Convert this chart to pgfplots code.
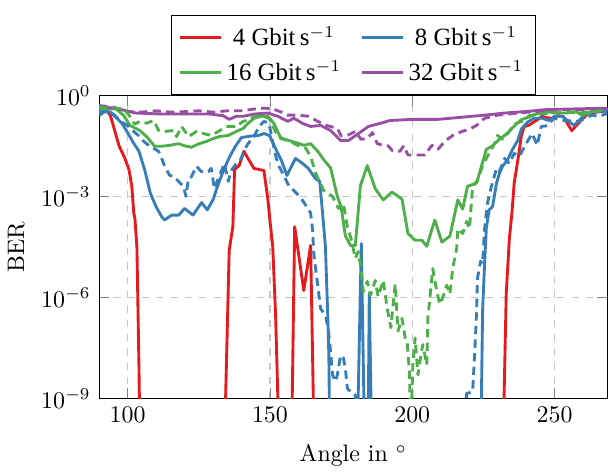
\documentclass[border=0pt]{standalone}
\usepackage{fontspec}
\usepackage{pgfplots}
\pgfplotsset{compat=1.18}
\newfontfamily\legfont{Liberation Serif}
\definecolor{cred}{HTML}{E41A1C}
\definecolor{cblue}{HTML}{377EB8}
\definecolor{cgreen}{HTML}{4DAF4A}
\definecolor{cpurple}{HTML}{984EA3}
\begin{document}
\begin{tikzpicture}
\begin{axis}[
  scale only axis,
  width=213pt, height=127pt,
  ymode=log,
  xmin=90, xmax=268.5,
  ymin=1e-9, ymax=1,
  xtick={100,150,200,250},
  ytick={1e-9,1e-6,1e-3,1},
  minor y tick num=0,
  grid=major,
  grid style={dashed, gray!45, line width=0.6pt},
  xlabel={Angle in $^\circ$},
  xlabel style={yshift=-2.5pt},
  ylabel={BER},
  legend columns=2,
  legend cell align=center,
  legend style={at={(0.5,1)}, anchor=south, font=\legfont\fontsize{10.4}{12.5}\selectfont, draw=black,
    row sep=1pt, inner ysep=2.5pt,
    /tikz/every even column/.append style={column sep=6pt}},
  every axis plot/.append style={line width=1.2pt, line join=round},
]
% 4 Gbit/s solid
\addplot[cred] coordinates {
(90,0.45)(92.5,0.38)(94,0.25)(95.5,0.09)(97,3.2e-2)(99,1.4e-2)(100.5,6.3e-3)(101.5,2e-3)(102.2,3.2e-4)(102.6,2.2e-4)(103.3,3e-5)(104,1e-8)(105,1e-14)
(133,1e-14)(135.7,2.5e-5)(137,1.3e-4)(137.6,6.3e-3)(139.2,8.3e-3)(140.9,2.2e-2)(142.3,1.35e-2)(144.4,6.8e-3)(147.9,5.9e-3)(149.3,8e-4)(150,2e-4)(151,3.2e-5)(152,3e-7)(152.8,1e-9)(153.5,1e-14)
(157,1e-14)(158.7,1.26e-4)(161.9,1.6e-6)(164.3,3.5e-5)(166.3,1e-14)
(231,1e-14)(233,1.26e-6)(234.1,5.6e-5)(235,3.2e-4)(235.8,2.5e-3)(237.6,2.3e-2)(238.3,6.3e-2)(239.3,0.12)(241,0.13)(243.5,0.18)(245.6,0.24)(247,0.22)(249,0.21)(251,0.25)(253,0.24)(256,0.09)(258,0.14)(260,0.21)(262,0.3)(266,0.33)(270,0.36)
};
\addlegendentry{4 Gbit\,s$^{-1}$}
% 8 Gbit/s solid
\addplot[cblue] coordinates {
(90,0.25)(92,0.33)(94,0.32)(96,0.22)(98,0.15)(100,7.9e-2)(102,4e-2)(104,2.2e-2)(106,6.3e-3)(108,1.26e-3)(110,5e-4)(112,2.5e-4)(113,2e-4)(115.5,2.8e-4)(118,2.8e-4)(120,4.4e-4)(123,2.8e-4)(126,6.6e-4)(128,4e-4)(130,7.9e-4)(132,2.5e-3)(134,6.8e-3)(136,1.6e-2)(138,3.2e-2)(140,5.6e-2)(142,6e-2)(144,6.3e-2)(146,6.5e-2)(148,7.4e-2)(150,6.3e-2)(151.5,3.2e-2)(154,1.2e-2)(156,4.2e-3)(159,1.35e-2)(161.5,9.5e-3)(163.5,6.8e-3)(166,3.4e-3)(167.5,2.8e-3)(168.5,3.2e-4)(169.5,3.2e-5)(170.3,3.2e-7)(170.7,2e-8)(171.5,1e-14)
(179.8,1e-14)(182.1,4e-5)(184.0,1e-14)(184.1,1e-14)(184.9,1.26e-6)(186.5,1e-14)
(223.5,1e-14)(224.7,4e-7)(225.4,1e-5)(226,1.1e-4)(227,4e-4)(228.2,5e-4)(229.6,2.5e-3)(230.6,4.8e-3)(231.7,7.9e-3)(233.4,1.2e-2)(235.2,2.5e-2)(237,4.5e-2)(238.3,0.1)(240.4,0.16)(242.8,0.21)(245.6,0.21)(248,0.18)(250,0.24)(252.6,0.24)(256.8,0.13)(258.5,0.18)(261,0.28)(263,0.32)(268,0.35)(270,0.35)
};
\addlegendentry{8 Gbit\,s$^{-1}$}
% 16 Gbit/s solid
\addplot[cgreen] coordinates {
(90,0.4)(93,0.4)(96,0.4)(98.7,0.25)(100.8,0.13)(104.3,9.1e-2)(106.7,6e-2)(109.5,3.1e-2)(112,3.1e-2)(114.8,3.3e-2)(118,3.7e-2)(120,3.2e-2)(122.4,2.9e-2)(125.2,3.7e-2)(127.7,4.3e-2)(130,5.2e-2)(132.2,6e-2)(135.4,6.5e-2)(138.2,8.5e-2)(140.6,0.105)(142.3,0.148)(144.4,0.21)(147,0.24)(149.3,0.24)(151.4,0.148)(153.9,5.2e-2)(156.6,4.6e-2)(159,4e-2)(162,3.3e-2)(164.3,3.7e-2)(166.8,2.2e-2)(169,1.2e-2)(171.3,7.1e-3)(173.7,1e-3)(175,5e-4)(176.5,6.9e-5)(178.3,3.5e-5)(180,3.5e-5)(181.8,2.1e-3)(184.2,8.3e-3)(187,1.7e-3)(189.8,7.9e-4)(192.9,1.35e-3)(196.4,8.3e-4)(198.5,7.9e-5)(201,5e-5)(203.4,5e-5)(205.1,3.3e-5)(207.9,2e-4)(210.4,4.4e-5)(213.2,6.6e-5)(216,7.9e-4)(217.7,4.2e-4)(219.4,2e-3)(222.6,2.5e-3)(224.3,7.9e-3)(226,2.5e-2)(228.2,3.2e-2)(230.6,5e-2)(233,7.1e-2)(235.2,0.11)(238.3,0.19)(241,0.23)(243.5,0.28)(247,0.33)(250.5,0.3)(254,0.3)(257.5,0.33)(259.6,0.26)(263,0.33)(268,0.4)(270,0.42)
};
\addlegendentry{16 Gbit\,s$^{-1}$}
% 32 Gbit/s solid
\addplot[cpurple] coordinates {
(90,0.47)(96,0.41)(103,0.3)(112,0.28)(122,0.28)(129,0.28)(133.6,0.25)(135.7,0.195)(138.2,0.24)(140.6,0.24)(144.4,0.28)(149.3,0.3)(152.8,0.24)(156.3,0.17)(158.4,0.21)(161.5,0.148)(164.3,0.12)(167.8,0.129)(171.3,9.1e-2)(174.8,4.6e-2)(177.6,4.6e-2)(181.1,7.4e-2)(184.6,0.12)(188.7,0.148)(192.2,0.18)(200,0.195)(209,0.195)(216,0.22)(220.8,0.24)(225.4,0.26)(232.4,0.3)(239.3,0.33)(242.8,0.35)(247,0.38)(258,0.4)(270,0.42)
};
\addlegendentry{32 Gbit\,s$^{-1}$}
% dashed series
\addplot[cpurple, dash pattern=on 3.5pt off 2.2pt, forget plot] coordinates {
(90,0.5)(95,0.45)(100,0.33)(105,0.32)(110,0.35)(115,0.32)(120,0.33)(125,0.35)(130,0.32)(135,0.35)(140,0.35)(145,0.4)(148,0.42)(151,0.4)(154,0.32)(156.3,0.26)(160,0.26)(163.6,0.24)(166.8,0.17)(170.3,0.126)(173.7,0.105)(175,6.3e-2)(177.2,6.5e-2)(180,8.5e-2)(182,5e-2)(184.2,5.2e-2)(186,7.9e-2)(187.7,3.7e-2)(189.8,3.3e-2)(191.5,3.2e-2)(193,2.3e-2)(195.7,2.2e-2)(197,3.2e-2)(198.5,1.7e-2)(201.7,1.7e-2)(204.4,1.7e-2)(206.9,3.3e-2)(209,2.5e-2)(211.4,4.3e-2)(214.2,6.5e-2)(217.4,8.5e-2)(220.1,0.1)(222.6,0.129)(225.4,0.21)(230,0.26)(237,0.3)(243,0.33)(250,0.38)(260,0.38)(270,0.42)
};
\addplot[cgreen, dash pattern=on 3.5pt off 2.2pt, forget plot] coordinates {
(90,0.45)(95,0.42)(98.7,0.4)(100.8,0.24)(102.5,0.14)(104.3,0.17)(106.7,0.15)(109.2,0.18)(110.9,9.1e-2)(113,8.5e-2)(116.2,9.1e-2)(117.2,6e-2)(119,0.12)(121.4,6e-2)(124.2,8.5e-2)(126.6,7.4e-2)(129.4,6.5e-2)(131.9,8.5e-2)(134.7,0.12)(138.2,0.12)(140.6,0.17)(143,0.19)(144.4,0.24)(147.6,0.24)(149.7,0.21)(151.1,0.12)(152.8,6e-2)(156.3,4.6e-2)(159.8,3.3e-2)(162.6,2.7e-2)(164.3,1.55e-2)(166.1,4.8e-3)(168.9,1.5e-3)(172,1e-3)(174.1,4.4e-4)(175.8,6.3e-4)(177.2,1.26e-4)(178.5,5.6e-5)(180,1.45e-5)(181,2.3e-5)(182,7.2e-6)(182.8,1.5e-6)(184.2,3e-6)(185.3,1.15e-6)(187,3.2e-6)(188,1.07e-6)(189.8,3.2e-6)(191.2,4.7e-7)(192.5,1.26e-7)(194,2.5e-6)(195,1e-7)(196.4,2.4e-7)(197.5,6.3e-8)(198.2,5e-8)(199,6.3e-9)(199.5,1e-10)(200.2,1e-8)(201,6.3e-8)(202,5e-9)(202.7,1.26e-8)(203.7,4e-8)(205.1,1e-8)(205.5,2.5e-7)(207.2,7.2e-6)(208.6,1.5e-6)(209.7,6.3e-7)(210.7,1e-6)(212.1,2.3e-6)(213.2,1.26e-6)(214.2,7.2e-6)(215.6,2.9e-5)(216,1.1e-4)(217.7,7.9e-5)(219.1,1.8e-4)(220.1,1.1e-4)(221.2,2e-3)(222.9,3e-3)(224.7,8.3e-3)(226.4,1.55e-2)(228.9,3.7e-2)(229.9,6.5e-2)(231.7,5e-2)(234.1,8.5e-2)(236.5,0.148)(239.3,0.18)(241,0.25)(244.6,0.28)(249,0.3)(254,0.33)(258.5,0.3)(263,0.33)(270,0.38)
};
\addplot[cblue, dash pattern=on 3.5pt off 2.2pt, forget plot] coordinates {
(90,0.32)(93,0.35)(95,0.28)(97.3,0.18)(100,0.126)(102.2,8.5e-2)(104,6.3e-2)(105.7,4.3e-2)(107.8,3.1e-2)(110.9,2.2e-2)(112,1.35e-2)(113,7.9e-3)(114.8,4.2e-3)(116.2,4e-3)(117.9,2.8e-3)(119.7,2e-3)(120.5,1e-3)(121.4,3.4e-3)(122.4,3.8e-3)(124.2,7.9e-3)(125.9,5.5e-3)(128.4,5.5e-3)(129.4,6.8e-3)(130.5,1.7e-3)(132.2,4e-3)(134,9.5e-3)(135.4,2.8e-3)(136.4,5.9e-3)(138.2,9.5e-3)(139.9,1.35e-2)(140.9,2.3e-2)(142.3,3.7e-2)(144.4,6e-2)(146.2,0.12)(147.9,0.17)(149.7,0.148)(151.1,3.7e-2)(152.1,1.55e-2)(153.2,7.9e-3)(154.9,4.2e-3)(156.6,2.1e-3)(158.4,1.5e-3)(160.1,1.07e-3)(161.5,7.6e-4)(163.3,4.4e-4)(164.3,3.2e-4)(165,1e-4)(165.4,2e-5)(166.8,2.3e-6)(167.8,4.7e-7)(169.6,2.8e-7)(170.6,1e-7)(171.3,2.5e-8)(172,5e-9)(173,3.2e-9)(173.7,5e-9)(174.8,1.9e-8)(175.8,1.6e-8)(176.5,7.9e-9)(177.2,2e-9)(178.3,1.6e-9)(180,1.26e-9)(181,1e-14)
(218.5,1e-14)(219.1,1.4e-9)(221.2,1.6e-9)(221.9,1.9e-8)(222.6,4e-7)(222.9,3.7e-6)(224,1.2e-5)(224.7,1e-5)(225.4,1.1e-4)(226.4,6.3e-4)(227.8,2e-3)(229.6,6.8e-3)(230.6,5.5e-3)(232.4,1.35e-2)(234.1,9.5e-3)(235.8,1.9e-2)(237.6,1.55e-2)(240,3.7e-2)(242.1,7.4e-2)(243.9,3.3e-2)(245.3,0.12)(247.4,0.126)(249.8,0.21)(253.3,0.18)(258.5,0.17)(263.1,0.26)(265.5,0.24)(270,0.32)
};
\end{axis}
\path (current axis.north) ++(0,40pt);
\end{tikzpicture}
\end{document}
